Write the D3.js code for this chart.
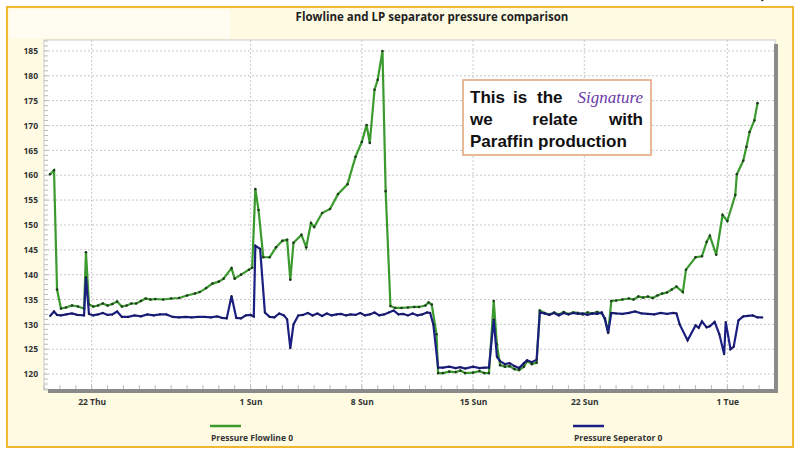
<!DOCTYPE html>
<html><head><meta charset="utf-8">
<script src="https://cdn.jsdelivr.net/npm/d3@7"></script>
<style>body{margin:0;background:#fff}svg{display:block}</style>
</head><body><svg id="c" width="800" height="458"></svg>
<script>
const startDate = new Date(2019,7,19);
const flowDays = [0.38,0.63,0.82,1.07,1.38,1.76,2.14,2.52,2.64,2.83,3.1,3.4,3.7,4.0,4.3,4.6,4.9,5.2,5.5,5.8,6.1,6.4,6.7,7.0,7.5,8.0,8.5,9.0,9.5,9.8,10.2,10.6,11.0,11.3,11.8,12.0,12.4,12.9,13.1,13.3,13.5,13.8,14.2,14.6,15.0,15.3,15.5,15.7,16.2,16.5,16.8,17.0,17.5,18.0,18.5,19.1,19.6,20.0,20.3,20.5,20.8,21.0,21.3,21.5,21.8,22.1,22.5,22.9,23.3,23.6,24.0,24.2,24.4,24.7,24.8,25.1,25.5,25.9,26.2,26.5,27.0,27.4,27.7,28.0,28.3,28.5,28.7,29.0,29.3,29.6,29.9,30.2,30.4,30.7,31.0,31.2,31.5,31.8,32.1,32.4,32.7,33.0,33.3,33.6,33.9,34.2,34.5,34.8,35.1,35.3,35.5,35.7,36.0,36.4,36.8,37.1,37.4,37.7,38.0,38.3,38.6,38.9,39.2,39.5,39.8,40.2,40.4,41.0,41.4,41.7,41.9,42.3,42.7,43.0,43.5,43.6,44.0,44.2,44.4,44.7,44.9,45.2];
const flowValues = [160.2,161,137,133.2,133.4,133.8,133.6,133.2,144.5,134,133.6,133.8,134.2,133.8,134.1,134.6,133.6,133.8,134.2,134.2,134.7,135.2,135,135.1,135,135.2,135.3,135.8,136.2,136.5,137.3,138.2,138.6,139.2,141.3,139.2,140,141,141.4,157.2,153,143.5,143.5,145.5,146.8,147,139,146.4,148,145.5,150.4,149.6,152.4,153.2,156.2,158.2,163.7,166.7,170.1,166.5,177.2,179.2,185,156.8,133.7,133.3,133.3,133.4,133.5,133.5,133.8,134.4,134,128,120.2,120.2,120.5,120.4,120.7,120.2,120.3,120.6,120.2,120.2,134.7,126,121.8,121.5,121.6,121,120.8,121.5,122.6,122,122.3,132.8,132.3,132,132.4,132,132.5,132.1,132.4,132.3,132,132.4,132.2,132.5,132.2,131.2,128.3,134.7,134.8,135,135.2,135,135.6,135.4,135.6,135.3,135.8,136.2,136.4,137,137.6,136.5,141,143.5,143.7,146.6,147.8,144,152,150.8,156,160.2,162.9,165.7,168.7,171,174.5];
const sepDays = [0.38,0.63,0.82,1.07,1.4,1.76,2.1,2.52,2.64,2.83,3.1,3.4,3.7,4.0,4.3,4.6,4.9,5.3,5.7,6.1,6.5,6.9,7.3,7.7,8.1,8.5,8.9,9.3,9.7,10.1,10.5,10.9,11.2,11.5,11.8,12.1,12.4,12.7,13.0,13.2,13.3,13.6,13.9,14.2,14.5,14.8,15.1,15.3,15.5,15.7,16.0,16.3,16.6,16.9,17.2,17.5,17.8,18.1,18.4,18.7,19.0,19.3,19.6,19.9,20.2,20.5,20.8,21.1,21.4,21.7,22.0,22.3,22.6,22.9,23.2,23.5,23.8,24.1,24.3,24.5,24.8,25.1,25.5,25.9,26.2,26.5,27.0,27.4,27.7,28.0,28.3,28.5,28.7,29.0,29.3,29.6,29.9,30.2,30.4,30.7,31.0,31.2,31.5,31.8,32.1,32.4,32.7,33.0,33.3,33.6,33.9,34.2,34.5,34.8,35.1,35.3,35.5,35.7,36.0,36.4,36.8,37.2,37.6,38.0,38.4,38.8,39.2,39.6,39.8,40.0,40.5,41.0,41.2,41.4,41.7,41.9,42.2,42.5,42.8,42.9,43.2,43.4,43.7,44.0,44.3,44.6,44.9,45.2];
const sepValues = [131.7,132.6,131.9,131.8,132,132.2,131.9,131.8,139.5,132.1,131.8,132,132.3,131.9,132,132.6,131.5,131.5,131.8,131.6,132,131.8,132,132,131.5,131.4,131.5,131.4,131.5,131.5,131.4,131.6,131.3,131.2,135.7,131.3,131.2,131.8,131.9,131.6,145.8,145.2,132.4,131.5,131.4,132.2,131.8,131,125.2,130,131.8,131.9,132.3,131.8,132.2,131.7,132.2,131.8,132,132.1,131.8,132,131.9,132.3,131.8,132,132.4,131.8,132,132.4,132.8,132,132.1,131.8,132.2,131.8,132,132.4,132.3,130,121.3,121.3,121.5,121.2,121.4,121.1,121.5,121.2,121.3,121.3,131,123.5,122.6,122,122.2,121.6,121.2,122.2,122.8,122.4,122.9,132.4,132.2,131.9,132.3,131.8,132.3,132,132.3,132.1,132.2,131.9,132.2,132.1,132.4,131,128.3,132.3,132.2,132.1,132.3,132.6,132.2,132.1,132,132.3,132.1,132.3,132.2,130,126.8,129.8,129.3,130.6,129.4,129.6,130.5,128,124,130.5,125,125.5,130.8,131.6,131.7,131.8,131.4,131.4];
const yTicks = [120,125,130,135,140,145,150,155,160,165,170,175,180,185];
const xTickDates = ["2019-08-22","2019-09-01","2019-09-08","2019-09-15","2019-09-22","2019-10-01"];
const xTickLabels = ["22 Thu","1 Sun","8 Sun","15 Sun","22 Sun","1 Tue"];
const seriesNames = ["Pressure Flowline 0","Pressure Seperator 0"];

const svg = d3.select("#c");
const L=44,R=775,T=40,B=390;
const dayToDate = d => new Date(startDate.getTime()+d*864e5);
const x = d3.scaleTime().domain([startDate, dayToDate(46)]).range([L,R]);
const y = d3.scaleLinear().domain([116.8,187.2]).range([B,T]);
const font = "Open Sans, DejaVu Sans, sans-serif";

svg.append("rect").attr("x",7).attr("y",7).attr("width",786).attr("height",440).attr("fill","#fffbe3").attr("stroke","#f2b630").attr("stroke-width",2);
svg.append("rect").attr("x",10).attr("y",10).attr("width",220).attr("height",28).attr("fill","#fffdf2");
svg.append("text").attr("x",432).attr("y",21).attr("text-anchor","middle").attr("font-family",font).attr("font-weight","bold").attr("font-size",11.5).attr("fill","#222").text("Flowline and LP separator pressure comparison");

svg.append("rect").attr("x",L).attr("y",T).attr("width",R-L).attr("height",B-T).attr("fill","#fff").attr("stroke","#ccc");
// grid
const g = svg.append("g");
g.selectAll(".hg").data(yTicks).join("line").attr("x1",L).attr("x2",R).attr("y1",d=>y(d)).attr("y2",d=>y(d)).attr("stroke","#c8c8c8").attr("stroke-dasharray","2,2");
const xt = xTickDates.map(s=>{const p=s.split("-");return new Date(+p[0],+p[1]-1,+p[2]);});
g.selectAll(".vg").data(xt).join("line").attr("x1",d=>x(d)).attr("x2",d=>x(d)).attr("y1",T).attr("y2",B).attr("stroke","#c8c8c8").attr("stroke-dasharray","2,2");
// y axis
const ya = svg.append("g").attr("transform",`translate(${L},0)`).call(d3.axisLeft(y).tickValues(yTicks).tickSize(0).tickPadding(6));
ya.select(".domain").remove();
ya.selectAll("text").attr("font-family",font).attr("font-size",8.5).attr("font-weight","bold").attr("fill","#333");
svg.append("g").selectAll("line").data(d3.range(117,188)).join("line").attr("x1",L).attr("x2",L+4).attr("y1",d=>y(d)).attr("y2",d=>y(d)).attr("stroke","#bbb");
// x minor ticks
svg.append("g").selectAll("line").data(d3.range(0,47)).join("line").attr("x1",d=>x(dayToDate(d))).attr("x2",d=>x(dayToDate(d))).attr("y1",B-5).attr("y2",B).attr("stroke","#bbb");
const xa = svg.append("g").attr("transform",`translate(0,${B})`).call(d3.axisBottom(x).tickValues(xt).tickFormat((d,i)=>xTickLabels[i]).tickSize(0).tickPadding(9));
xa.select(".domain").remove();
xa.selectAll("text").attr("font-family",font).attr("font-size",8.5).attr("font-weight","bold").attr("fill","#333");
// thick bottom/right border
svg.append("path").attr("d",`M${L+4},${B+1}H${R+1}V${T+4}`).attr("fill","none").attr("stroke","#8a8a8a").attr("stroke-width",4);

const line = d3.line().x(d=>x(dayToDate(d[0]))).y(d=>y(d[1]));
const flow = flowDays.map((d,i)=>[d,flowValues[i]]);
const sep = sepDays.map((d,i)=>[d,sepValues[i]]);
svg.append("path").datum(flow).attr("d",line).attr("fill","none").attr("stroke","#3a9a2e").attr("stroke-width",2.2);
svg.append("g").selectAll("circle").data(flow).join("circle").attr("cx",d=>x(dayToDate(d[0]))).attr("cy",d=>y(d[1])).attr("r",1.3).attr("fill","#1f3a1f");
svg.append("path").datum(sep).attr("d",line).attr("fill","none").attr("stroke","#1c1f82").attr("stroke-width",2.2);
svg.append("g").selectAll("circle").data(sep).join("circle").attr("cx",d=>x(dayToDate(d[0]))).attr("cy",d=>y(d[1])).attr("r",1).attr("fill","#151545");

// legend
const colors=["#3a9a2e","#1c1f82"], lx=[210,573];
seriesNames.forEach((n,i)=>{
  svg.append("line").attr("x1",lx[i]).attr("x2",lx[i]+31).attr("y1",426).attr("y2",426).attr("stroke",colors[i]).attr("stroke-width",2.5);
  svg.append("text").attr("x",lx[i]+1).attr("y",441).attr("font-family",font).attr("font-size",8.5).attr("font-weight","bold").attr("fill","#333").text(n);
});

// annotation box
svg.append("rect").attr("x",463).attr("y",80).attr("width",188).attr("height",75).attr("fill","#fff").attr("stroke","#e0a27a").attr("stroke-width",1.5);
const bf="Liberation Sans, Arial, sans-serif";
const t1=svg.append("text").attr("x",470).attr("y",103).attr("font-family",bf).attr("font-weight","bold").attr("font-size",17).attr("fill","#111");
t1.append("tspan").text("This");
t1.append("tspan").attr("x",513).text("is");
t1.append("tspan").attr("x",537).text("the");
svg.append("text").attr("x",643).attr("y",103).attr("text-anchor","end").attr("font-family","Liberation Serif, DejaVu Serif, serif").attr("font-style","italic").attr("font-size",17).attr("fill","#6a3aa8").text("Signature");
svg.append("text").attr("x",470).attr("y",125).attr("font-family",bf).attr("font-weight","bold").attr("font-size",17).attr("fill","#111").text("we");
svg.append("text").attr("x",555).attr("y",125).attr("text-anchor","middle").attr("font-family",bf).attr("font-weight","bold").attr("font-size",17).attr("fill","#111").text("relate");
svg.append("text").attr("x",643).attr("y",125).attr("text-anchor","end").attr("font-family",bf).attr("font-weight","bold").attr("font-size",17).attr("fill","#111").text("with");
svg.append("text").attr("x",470).attr("y",147).attr("font-family",bf).attr("font-weight","bold").attr("font-size",17).attr("fill","#111").text("Paraffin production");
</script></body></html>
